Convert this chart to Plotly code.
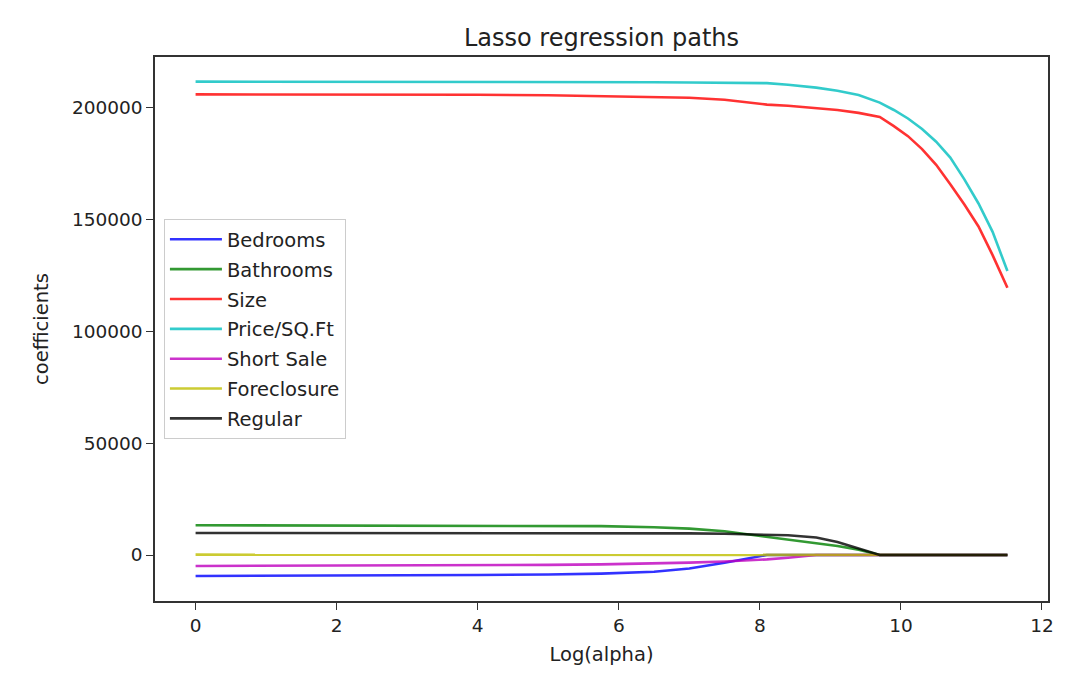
import plotly.graph_objects as go

# log(alpha) grid
log_alpha = [0, 1, 2, 3, 4, 5, 5.75, 6.5, 7.0, 7.5, 7.9, 8.1, 8.4, 8.8,
             9.1, 9.4, 9.7, 9.9, 10.1, 10.3, 10.5, 10.7, 10.9, 11.1, 11.3, 11.51]

bedrooms = [-9400, -9350, -9250, -9100, -8950, -8700, -8350, -7500, -6000, -3500,
            -1100, 0, 0, 0, 0, 0, 0, 0, 0, 0, 0, 0, 0, 0, 0, 0]
bathrooms = [13300, 13280, 13250, 13200, 13150, 13050, 12900, 12400, 11800, 10600,
             9000, 8100, 6900, 5500, 4000, 2400, 0, 0, 0, 0, 0, 0, 0, 0, 0, 0]
size = [206000, 206000, 205950, 205900, 205800, 205600, 205300, 204900, 204500, 203600,
        202300, 201400, 200900, 200000, 199000, 197700, 195900, 191800, 187300, 181500,
        174500, 165800, 156700, 146900, 134100, 119500]
price_sqft = [211700, 211700, 211700, 211650, 211600, 211550, 211500, 211400, 211300, 211200,
              211100, 211000, 210300, 209000, 207600, 205700, 202300, 199000, 195200, 190500,
              184800, 177700, 168000, 157200, 144500, 127000]
short_sale = [-4900, -4850, -4800, -4700, -4600, -4400, -4200, -3800, -3400, -2900,
              -2300, -1950, -1200, 0, 0, 0, 0, 0, 0, 0, 0, 0, 0, 0, 0, 0]
foreclosure = [150, 150, 150, 150, 150, 150, 140, 130, 120, 110,
               100, 100, 50, 0, 0, 0, 0, 0, 0, 0, 0, 0, 0, 0, 0, 0]
regular = [9850, 9850, 9850, 9850, 9850, 9850, 9850, 9800, 9650, 9500,
           9300, 9200, 8800, 7800, 5800, 2900, 0, 0, 0, 0, 0, 0, 0, 0, 0, 0]

names = ['Bedrooms', 'Bathrooms', 'Size', 'Price/SQ.Ft', 'Short Sale', 'Foreclosure', 'Regular']
series = [bedrooms, bathrooms, size, price_sqft, short_sale, foreclosure, regular]
colors = ['#0000ff', '#008000', '#ff0000', '#00bfbf', '#bf00bf', '#bfbf00', '#000000']

fig = go.Figure()
for i, (name, ys, c) in enumerate(zip(names, series, colors)):
    fig.add_trace(go.Scatter(x=log_alpha, y=ys, name=name, mode='lines',
                             line=dict(color=c, width=2.6), opacity=0.8,
                             legendgroup=str(i)))

font = 'DejaVu Sans'
axis_common = dict(showline=True, linecolor='#333', linewidth=1.5, mirror=True,
                   ticks='outside', ticklen=7, tickwidth=1.3, tickcolor='#333',
                   showgrid=False, zeroline=False,
                   tickfont=dict(family=font, size=18.5, color='#222'))

fig.update_layout(
    width=1086, height=686,
    margin=dict(l=147, r=46, t=49, b=93),
    paper_bgcolor='white', plot_bgcolor='white',
    title=dict(text='Lasso regression paths', xref='paper', x=0.5, xanchor='center',
               y=0.957, yanchor='middle',
               font=dict(family=font, size=24, color='#222')),
    xaxis=dict(range=[-0.5755, 12.0855], tickvals=[0, 2, 4, 6, 8, 10, 12],
               title=dict(text='Log(alpha)', font=dict(family=font, size=19.5, color='#222'), standoff=12),
               **axis_common),
    yaxis=dict(range=[-20570, 222700], tickvals=[0, 50000, 100000, 150000, 200000],
               tickformat='d',
               title=dict(text='coefficients', font=dict(family=font, size=19.5, color='#222'), standoff=18),
               **axis_common),
    legend=dict(x=0.010, y=0.702, xanchor='left', yanchor='top',
                bgcolor='rgba(255,255,255,0.8)', bordercolor='#ccc', borderwidth=1,
                itemwidth=52,
                font=dict(family=font, size=19.5, color='#222'), tracegroupgap=1.5),
    showlegend=True,
)

fig.write_html('out.html')
